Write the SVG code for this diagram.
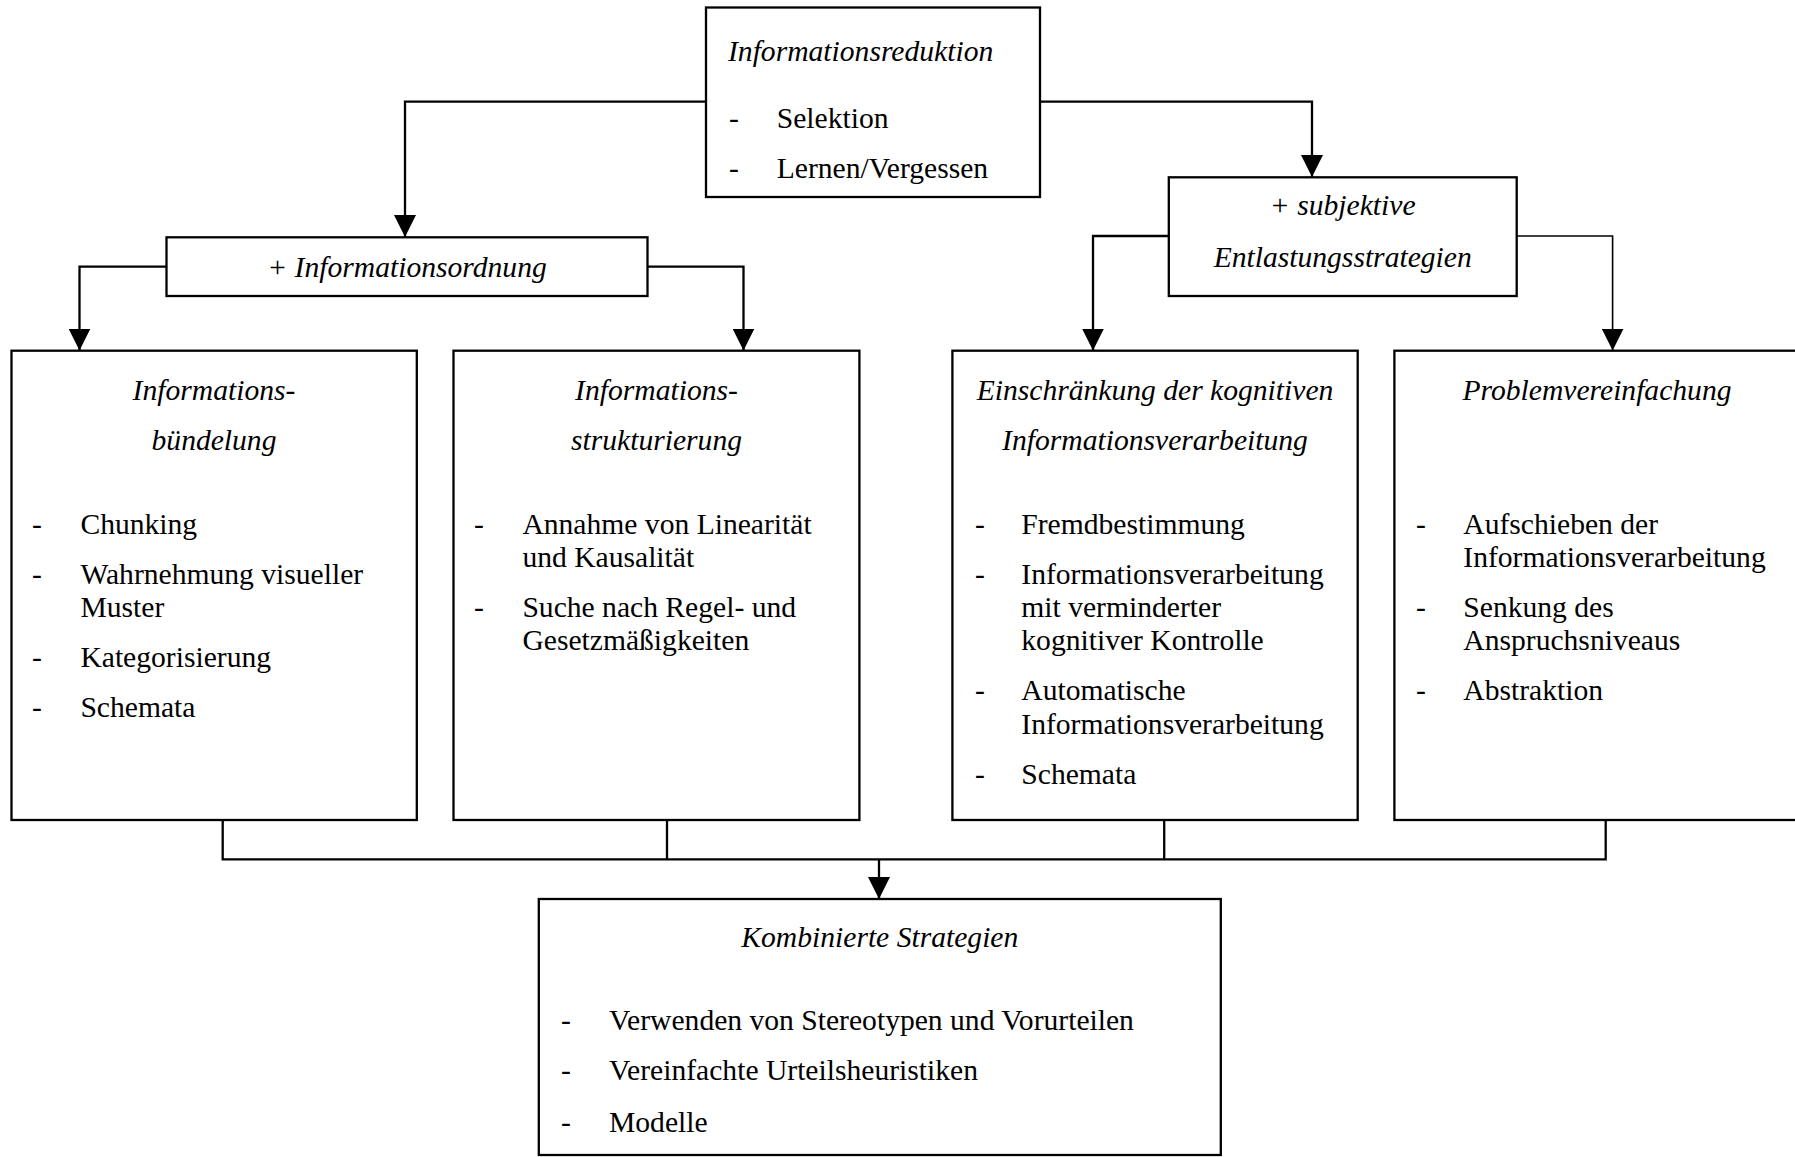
<svg xmlns="http://www.w3.org/2000/svg" width="1795" height="1157" viewBox="0 0 1795 1157">
<defs>
<style>
.box{fill:#fff;stroke:#000;stroke-width:2.3}
.t{font-family:"Liberation Serif","Times New Roman",serif;font-size:29.6px;fill:#000}
.i{font-style:italic}
.c{text-anchor:middle}
.ln{fill:none;stroke:#000;stroke-width:2.3}
</style>
<marker id="ah" markerUnits="userSpaceOnUse" markerWidth="22" markerHeight="22" viewBox="0 0 22 22" refX="22" refY="11" orient="auto">
<path d="M0,0 L22,11 L0,22 z" fill="#000"/>
</marker>
</defs>
<rect width="1795" height="1157" fill="#fff"/>
<g id="connectors">
<path class="ln" d="M706,101.7 H405 V237" marker-end="url(#ah)"/>
<path class="ln" d="M1040,101.7 H1312 V177" marker-end="url(#ah)"/>
<path class="ln" d="M166.5,266.7 H79.5 V350.5" marker-end="url(#ah)"/>
<path class="ln" d="M647.5,266.7 H743.5 V350.5" marker-end="url(#ah)"/>
<path class="ln" d="M1168.8,236 H1093 V350.5" marker-end="url(#ah)"/>
<path class="ln" d="M1516.7,236 H1612.6 V350.5" style="stroke-width:1.6" marker-end="url(#ah)"/>
<path class="ln" d="M222.7,820 V859.3 H1605.7 V820"/>
<path class="ln" d="M667,820 V859.3"/>
<path class="ln" d="M1164.2,820 V859.3"/>
<path class="ln" d="M879,859.3 V899" marker-end="url(#ah)"/>
</g>
<g id="n-reduktion">
<rect class="box" x="706" y="7.5" width="334" height="189.5"/>
<text class="t i" x="728" y="60.5">Informationsreduktion</text>
<text class="t" x="729" y="128">-</text><text class="t" x="776.7" y="128">Selektion</text>
<text class="t" x="729" y="177.5">-</text><text class="t" x="776.7" y="177.5">Lernen/Vergessen</text>
</g>
<g id="n-ordnung">
<rect class="box" x="166.5" y="237.3" width="481" height="58.7"/>
<text class="t i c" x="407" y="276.5">+ Informationsordnung</text>
</g>
<g id="n-entlastung">
<rect class="box" x="1168.8" y="177.3" width="347.9" height="118.7"/>
<text class="t i c" x="1342.7" y="215">+ subjektive</text>
<text class="t i c" x="1342.7" y="266.5">Entlastungsstrategien</text>
</g>
<g id="n-buendelung">
<rect class="box" x="11.5" y="350.7" width="405.3" height="469.3"/>
<text class="t i c" x="214" y="400">Informations-</text>
<text class="t i c" x="214" y="450">bündelung</text>
<text class="t" x="32" y="534">-</text><text class="t" x="80.4" y="534">Chunking</text>
<text class="t" x="32" y="583.5">-</text><text class="t" x="80.4" y="583.5">Wahrnehmung visueller</text>
<text class="t" x="80.4" y="617">Muster</text>
<text class="t" x="32" y="667">-</text><text class="t" x="80.4" y="667">Kategorisierung</text>
<text class="t" x="32" y="717">-</text><text class="t" x="80.4" y="717">Schemata</text>
</g>
<g id="n-strukturierung">
<rect class="box" x="453.5" y="350.7" width="405.9" height="469.3"/>
<text class="t i c" x="656.5" y="400">Informations-</text>
<text class="t i c" x="656.5" y="450">strukturierung</text>
<text class="t" x="474" y="534">-</text><text class="t" x="522.4" y="534">Annahme von Linearität</text>
<text class="t" x="522.4" y="567">und Kausalität</text>
<text class="t" x="474" y="617">-</text><text class="t" x="522.4" y="617">Suche nach Regel- und</text>
<text class="t" x="522.4" y="650">Gesetzmäßigkeiten</text>
</g>
<g id="n-einschraenkung">
<rect class="box" x="952.4" y="350.7" width="405.3" height="469.3"/>
<text class="t i c" x="1155" y="400">Einschränkung der kognitiven</text>
<text class="t i c" x="1155" y="450">Informationsverarbeitung</text>
<text class="t" x="975" y="534">-</text><text class="t" x="1021.3" y="534">Fremdbestimmung</text>
<text class="t" x="975" y="583.5">-</text><text class="t" x="1021.3" y="583.5">Informationsverarbeitung</text>
<text class="t" x="1021.3" y="617">mit verminderter</text>
<text class="t" x="1021.3" y="650">kognitiver Kontrolle</text>
<text class="t" x="975" y="700">-</text><text class="t" x="1021.3" y="700">Automatische</text>
<text class="t" x="1021.3" y="733.5">Informationsverarbeitung</text>
<text class="t" x="975" y="783.5">-</text><text class="t" x="1021.3" y="783.5">Schemata</text>
</g>
<g id="n-problem">
<rect class="box" x="1394.4" y="350.7" width="406" height="469.3"/>
<text class="t i c" x="1597" y="400">Problemvereinfachung</text>
<text class="t" x="1416" y="534">-</text><text class="t" x="1463.3" y="534">Aufschieben der</text>
<text class="t" x="1463.3" y="567">Informationsverarbeitung</text>
<text class="t" x="1416" y="617">-</text><text class="t" x="1463.3" y="617">Senkung des</text>
<text class="t" x="1463.3" y="650">Anspruchsniveaus</text>
<text class="t" x="1416" y="700">-</text><text class="t" x="1463.3" y="700">Abstraktion</text>
</g>
<g id="n-kombiniert">
<rect class="box" x="538.8" y="899" width="682" height="256"/>
<text class="t i c" x="879.8" y="947">Kombinierte Strategien</text>
<text class="t" x="561" y="1030">-</text><text class="t" x="609" y="1030">Verwenden von Stereotypen und Vorurteilen</text>
<text class="t" x="561" y="1080">-</text><text class="t" x="609" y="1080">Vereinfachte Urteilsheuristiken</text>
<text class="t" x="561" y="1132">-</text><text class="t" x="609" y="1132">Modelle</text>
</g>
</svg>
